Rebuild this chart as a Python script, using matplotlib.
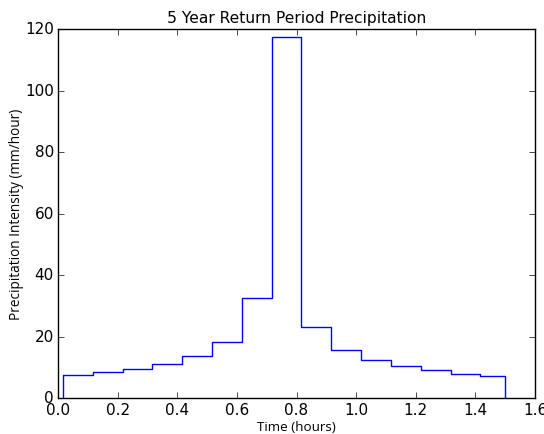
import numpy as np
import matplotlib
matplotlib.use("Agg")
import matplotlib.pyplot as plt

# rainfall blocks: 6 minute intervals starting at 1 minute
start_time = 1.0 / 60.0
block_width = 0.1
end_time = 1.5
intensity = [7.6, 8.45, 9.5, 11.2, 13.7, 18.3, 32.5, 117.5,
             23.0, 15.6, 12.3, 10.3, 9.0, 7.9, 7.15]

plt.style.use("classic")
fig = plt.figure(figsize=(5.44, 4.35), dpi=100, facecolor="white")
ax = fig.add_axes([58 / 544, 1 - 399 / 435, 477 / 544, 369 / 435])

edges = start_time + block_width * np.arange(len(intensity))
edges = np.append(edges, end_time)
x = np.repeat(edges, 2)
y = np.concatenate([[0], np.repeat(intensity, 2), [0]])
ax.plot(x, y, color="b", lw=1)

ax.set_xlim(0, 1.6)
ax.set_ylim(0, 120)
ax.tick_params(labelsize=11, pad=3)
ax.set_title("5 Year Return Period Precipitation", fontsize=11.2, pad=5)
ax.set_xlabel("Time (hours)", fontsize=9.7, family="Open Sans", labelpad=2)
ax.set_ylabel("Precipitation Intensity (mm/hour)", fontsize=9.8,
              family="Open Sans", labelpad=1)

fig.savefig("out.png", dpi=100, facecolor="white")
